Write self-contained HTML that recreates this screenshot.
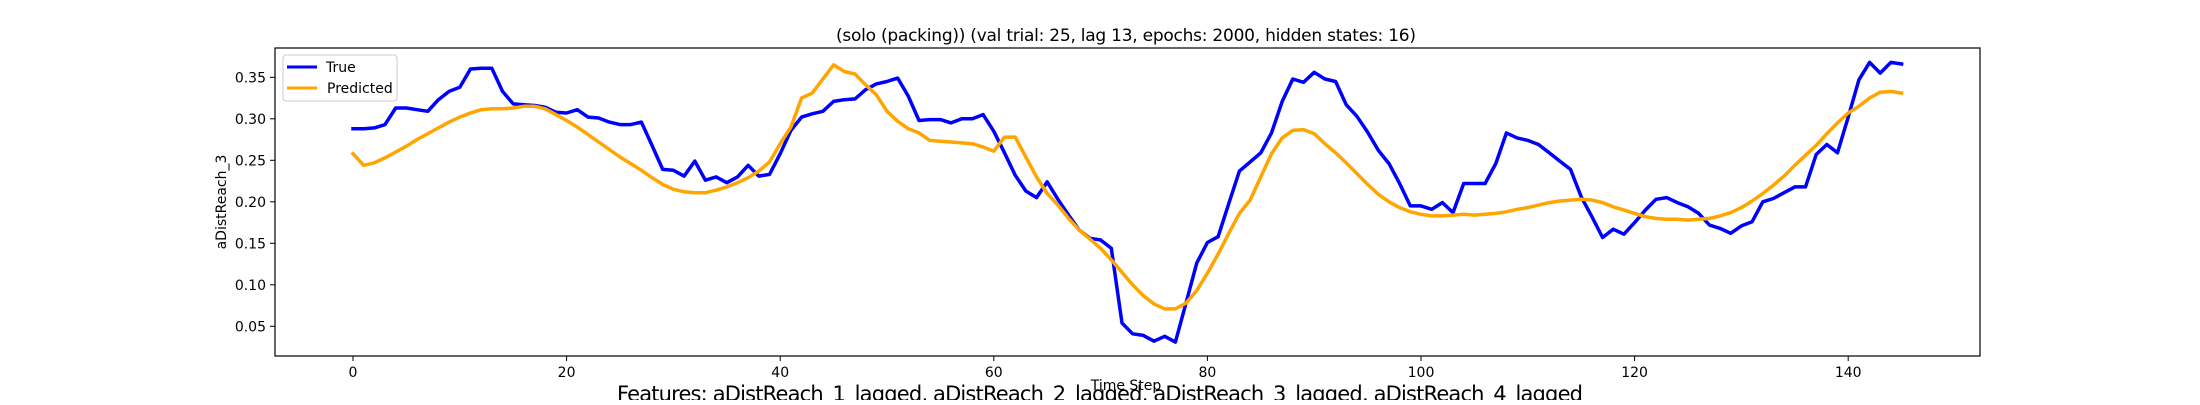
<!DOCTYPE html>
<html><head><meta charset="utf-8"><style>
html,body{margin:0;padding:0;background:#fff;overflow:hidden}
svg text{font-family:"DejaVu Sans","Liberation Sans",sans-serif;fill:#000}
</style></head><body>
<svg id="chart" width="2200" height="400" xmlns="http://www.w3.org/2000/svg">
<rect x="0" y="0" width="2200" height="400" fill="#fff"/>
<text x="1126" y="41" font-size="17" text-anchor="middle" textLength="580">(solo (packing)) (val trial: 25, lag 13, epochs: 2000, hidden states: 16)</text>
<g id="plot"></g>
<text x="1126" y="390" font-size="14" text-anchor="middle">Time Step</text>
<text transform="translate(226,202) rotate(-90)" font-size="14" text-anchor="middle">aDistReach_3</text>
<text x="1100" y="401" font-size="21" text-anchor="middle" textLength="966">Features: aDistReach_1_lagged, aDistReach_2_lagged, aDistReach_3_lagged, aDistReach_4_lagged</text>
<g>
<rect x="283" y="55" width="114" height="46" rx="3" fill="#fff" fill-opacity="0.8" stroke="#ccc"/>
<line x1="287" y1="67" x2="317" y2="67" stroke="#0000ff" stroke-width="3"/>
<text x="326" y="72" font-size="14">True</text>
<line x1="287" y1="88" x2="317" y2="88" stroke="#ffa500" stroke-width="3"/>
<text x="327" y="93" font-size="14">Predicted</text>
</g>
</svg>
<script>
const trueVals = [0.288,0.288,0.289,0.293,0.313,0.313,0.311,0.309,0.323,0.333,0.338,0.360,0.361,0.361,0.333,0.318,0.317,0.316,0.314,0.308,0.307,0.311,0.302,0.301,0.296,0.293,0.293,0.296,0.268,0.239,0.238,0.231,0.249,0.226,0.230,0.223,0.230,0.244,0.231,0.233,0.258,0.286,0.302,0.306,0.309,0.321,0.323,0.324,0.335,0.342,0.345,0.349,0.327,0.298,0.299,0.299,0.295,0.300,0.300,0.305,0.285,0.259,0.232,0.213,0.205,0.224,0.203,0.184,0.166,0.156,0.154,0.144,0.054,0.041,0.039,0.032,0.038,0.031,0.078,0.126,0.151,0.158,0.198,0.237,0.248,0.259,0.283,0.321,0.348,0.344,0.356,0.348,0.345,0.317,0.303,0.284,0.262,0.246,0.222,0.195,0.195,0.191,0.199,0.187,0.222,0.222,0.222,0.246,0.283,0.277,0.274,0.269,0.259,0.249,0.239,0.206,0.182,0.157,0.167,0.161,0.175,0.190,0.203,0.205,0.199,0.194,0.186,0.172,0.168,0.162,0.171,0.176,0.200,0.204,0.211,0.218,0.218,0.257,0.269,0.259,0.302,0.347,0.368,0.355,0.368,0.366];
const predVals = [0.258,0.244,0.247,0.253,0.260,0.267,0.275,0.282,0.289,0.296,0.302,0.307,0.311,0.312,0.312,0.313,0.315,0.315,0.312,0.305,0.298,0.290,0.281,0.272,0.263,0.254,0.246,0.238,0.229,0.221,0.215,0.212,0.211,0.211,0.214,0.218,0.223,0.229,0.237,0.248,0.270,0.290,0.325,0.331,0.348,0.365,0.357,0.354,0.341,0.329,0.309,0.297,0.288,0.283,0.274,0.273,0.272,0.271,0.270,0.266,0.261,0.278,0.278,0.254,0.230,0.210,0.196,0.180,0.166,0.155,0.144,0.130,0.115,0.100,0.087,0.077,0.071,0.071,0.078,0.093,0.114,0.137,0.162,0.186,0.202,0.230,0.258,0.277,0.286,0.287,0.282,0.270,0.259,0.247,0.234,0.221,0.209,0.200,0.193,0.188,0.185,0.183,0.183,0.184,0.185,0.184,0.185,0.186,0.188,0.191,0.193,0.196,0.199,0.201,0.202,0.203,0.202,0.199,0.194,0.190,0.186,0.182,0.180,0.179,0.179,0.178,0.179,0.180,0.183,0.187,0.193,0.201,0.210,0.220,0.231,0.244,0.256,0.268,0.282,0.295,0.307,0.315,0.325,0.332,0.333,0.331];
const xTicks = [0,20,40,60,80,100,120,140];
const yTicks = [0.05,0.10,0.15,0.20,0.25,0.30,0.35];
const yTickLabels = ["0.05","0.10","0.15","0.20","0.25","0.30","0.35"];

const NS = "http://www.w3.org/2000/svg";
const L = 275, R = 1980, T = 48, B = 356;
function xs(t){ return 353 + t * 10.68; }
function ys(v){ return 77.3 - (v - 0.35) * 830; }
const g = document.getElementById('plot');
function mk(tag, attrs){ const e = document.createElementNS(NS, tag); for (const k in attrs) e.setAttribute(k, attrs[k]); return e; }

function series(vals, color, name){
  const p = mk('polyline', {fill:'none', stroke:color, 'stroke-width':'3.5', 'stroke-linejoin':'round', 'stroke-linecap':'square'});
  
  
  p.setAttribute('points', vals.map((v,i)=>xs(i).toFixed(1)+','+ys(v).toFixed(1)).join(' '));
  g.appendChild(p);
}
series(trueVals, '#0000ff', 'true-line');
series(predVals, '#ffa500', 'predicted-line');

const frame = mk('rect', {x:L, y:T, width:R-L, height:B-T, fill:'none', stroke:'#000', 'stroke-width':'1.2'});


g.appendChild(frame);

xTicks.forEach(t=>{
  const x = xs(t);
  const tk = mk('line', {x1:x, y1:B, x2:x, y2:B+5, stroke:'#000', 'stroke-width':'1'});
  
  
  g.appendChild(tk);
  const tx = mk('text', {x:x, y:B+21, 'font-size':'14', 'text-anchor':'middle'});
  
  
  tx.textContent = String(t);
  g.appendChild(tx);
});
yTicks.forEach((v,i)=>{
  const y = ys(v);
  const tk = mk('line', {x1:L-5, y1:y, x2:L, y2:y, stroke:'#000', 'stroke-width':'1'});
  
  
  g.appendChild(tk);
  const tx = mk('text', {x:L-9, y:y+5, 'font-size':'14', 'text-anchor':'end'});
  
  
  tx.textContent = yTickLabels[i];
  g.appendChild(tx);
});
</script>
</body></html>
